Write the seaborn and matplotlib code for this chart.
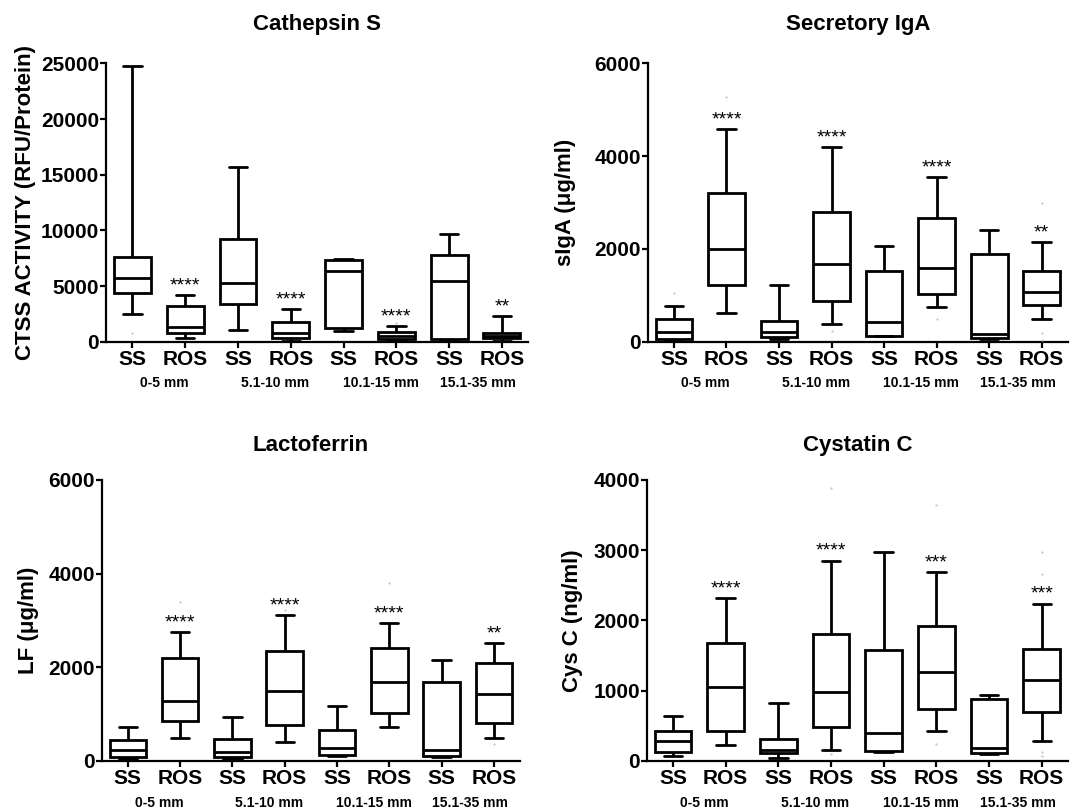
import pandas as pd
import seaborn as sns
from matplotlib import pyplot as plt
from matplotlib.transforms import blended_transform_factory

groups = ["0-5 mm", "5.1-10 mm", "10.1-15 mm", "15.1-35 mm"]
conditions = ["SS", "ROS"]
box_order = [f"{c} {g}" for g in groups for c in conditions]

# five-number summaries per box, in box_order (SS, ROS for each group)
ctss_min = [2455, 300, 1048, 90, 958, 60, 150, 90]
ctss_q1 = [4341, 749, 3383, 300, 1257, 210, 270, 305]
ctss_med = [5749, 1347, 5300, 808, 6377, 539, 5449, 512]
ctss_q3 = [7575, 3204, 9192, 1737, 7365, 838, 7754, 754]
ctss_max = [24800, 4222, 15720, 2934, 7400, 1407, 9640, 2308]
ctss_stars = ["****", "****", "****", "**"]
ctss_out_box = ["SS 0-5 mm", "ROS 10.1-15 mm"]
ctss_out_val = [770, 1650]

siga_min = [22, 611, 50, 388, 122, 740, 50, 481]
siga_q1 = [57, 1222, 93, 877, 129, 1028, 86, 790]
siga_med = [201, 1991, 201, 1667, 417, 1581, 158, 1064]
siga_q3 = [481, 3198, 446, 2803, 1531, 2659, 1890, 1531]
siga_max = [769, 4592, 1214, 4190, 2062, 3543, 2407, 2156]
siga_stars = ["****", "****", "****", "**"]
siga_out_box = ["ROS 0-5 mm", "SS 0-5 mm", "ROS 5.1-10 mm", "ROS 10.1-15 mm",
                "ROS 15.1-35 mm", "ROS 15.1-35 mm", "ROS 15.1-35 mm"]
siga_out_val = [5267, 1042, 225, 481, 2997, 180, 36]

lf_min = [36, 480, 36, 394, 100, 717, 72, 480]
lf_q1 = [72, 839, 86, 767, 115, 1018, 100, 803]
lf_med = [229, 1283, 194, 1484, 265, 1684, 229, 1426]
lf_q3 = [444, 2201, 473, 2351, 659, 2416, 1677, 2093]
lf_max = [710, 2753, 939, 3118, 1168, 2939, 2143, 2516]
lf_stars = ["****", "****", "****", "**"]
lf_out_box = ["ROS 0-5 mm", "ROS 5.1-10 mm", "ROS 10.1-15 mm", "ROS 15.1-35 mm"]
lf_out_val = [3383, 3226, 3792, 358]

cysc_min = [67, 219, 43, 152, 119, 429, 95, 276]
cysc_q1 = [129, 429, 105, 486, 143, 733, 114, 690]
cysc_med = [281, 1048, 152, 986, 400, 1271, 186, 1152]
cysc_q3 = [429, 1671, 310, 1805, 1581, 1924, 876, 1595]
cysc_max = [643, 2319, 829, 2852, 2971, 2686, 938, 2238]
cysc_stars = ["****", "****", "***", "***"]
cysc_out_box = ["ROS 5.1-10 mm", "ROS 5.1-10 mm", "ROS 10.1-15 mm", "ROS 10.1-15 mm",
                "ROS 15.1-35 mm", "ROS 15.1-35 mm", "ROS 15.1-35 mm", "ROS 15.1-35 mm"]
cysc_out_val = [3890, 100, 3638, 238, 2971, 2667, 130, 60]

# small horizontal nudges of the group captions (category units)
group_shift = [0.1, 0.2, 0.2, 0.05]

sns.set_style("ticks")
plt.rcParams["font.family"] = ["Liberation Sans", "DejaVu Sans"]
plt.rcParams.update({
    "text.color": "black",
    "axes.labelcolor": "black",
    "axes.edgecolor": "black",
    "xtick.color": "black",
    "ytick.color": "black",
})


def draw_panel(ax, title, ylabel, yticks, stats, stars, out_box, out_val,
               title_pad, label_x):
    rows = []
    for key, vals in zip(box_order, zip(*stats)):
        for v in vals:
            rows.append({"box": key, "value": v})
    df = pd.DataFrame(rows)

    sns.boxplot(data=df, x="box", y="value", order=box_order, whis=(0, 100),
                width=0.7, color="white", linecolor="black", linewidth=2,
                showfliers=False, ax=ax)
    sns.stripplot(x=out_box, y=out_val, order=box_order, jitter=False,
                  size=1.6, color="#c4c4c4", ax=ax)

    maxs = stats[4]
    for k, s in enumerate(stars):
        i = 2 * k + 1
        ax.annotate(s, (i, maxs[i]), xytext=(0, 0.5), textcoords="offset points",
                    ha="center", va="bottom", fontsize=14, color="black")

    trans = blended_transform_factory(ax.transData, ax.transAxes)
    for k, g in enumerate(groups):
        ax.text(2 * k + 0.5 + group_shift[k], -0.149, g, transform=trans,
                ha="center", va="center", fontsize=10, fontweight="bold",
                color="black")

    ax.set_xlim(-0.5, 7.5)
    ax.set_ylim(0, yticks[-1])
    ax.set_yticks(yticks)
    ax.set_xticks(range(len(box_order)))
    ax.set_xticklabels(conditions * len(groups))
    ax.set_xlabel("")
    ax.set_ylabel(ylabel, fontsize=16, fontweight="bold", color="black")
    ax.yaxis.set_label_coords(label_x, 0.5)
    ax.set_title(title, fontsize=16, fontweight="bold", pad=title_pad,
                 color="black")

    sns.despine(ax=ax)
    for side in ["left", "bottom"]:
        ax.spines[side].set_linewidth(1.6)
        ax.spines[side].set_color("black")
    ax.tick_params(axis="both", width=1.6, length=4, labelsize=15,
                   color="black", labelcolor="black")
    ax.tick_params(axis="y", pad=1)
    ax.tick_params(axis="x", pad=2)
    for lab in ax.get_xticklabels() + ax.get_yticklabels():
        lab.set_fontweight("bold")


fig = plt.figure(figsize=(10.73, 8.09), dpi=100)
ax1 = fig.add_axes([0.0988, 0.5776, 0.3936, 0.3441])
ax2 = fig.add_axes([0.6036, 0.5776, 0.3917, 0.3441])
ax3 = fig.add_axes([0.0948, 0.0597, 0.3898, 0.3470])
ax4 = fig.add_axes([0.6027, 0.0597, 0.3927, 0.3470])

draw_panel(ax1, "Cathepsin S", "CTSS ACTIVITY (RFU/Protein)",
           [0, 5000, 10000, 15000, 20000, 25000],
           [ctss_min, ctss_q1, ctss_med, ctss_q3, ctss_max], ctss_stars,
           ctss_out_box, ctss_out_val, 24, -0.166)
draw_panel(ax2, "Secretory IgA", "sIgA (μg/ml)", [0, 2000, 4000, 6000],
           [siga_min, siga_q1, siga_med, siga_q3, siga_max], siga_stars,
           siga_out_box, siga_out_val, 24, -0.171)
draw_panel(ax3, "Lactoferrin", "LF (μg/ml)", [0, 2000, 4000, 6000],
           [lf_min, lf_q1, lf_med, lf_q3, lf_max], lf_stars,
           lf_out_box, lf_out_val, 21, -0.15)
draw_panel(ax4, "Cystatin C", "Cys C (ng/ml)", [0, 1000, 2000, 3000, 4000],
           [cysc_min, cysc_q1, cysc_med, cysc_q3, cysc_max], cysc_stars,
           cysc_out_box, cysc_out_val, 21, -0.151)

fig.savefig("out.png", dpi=100, facecolor="white")
